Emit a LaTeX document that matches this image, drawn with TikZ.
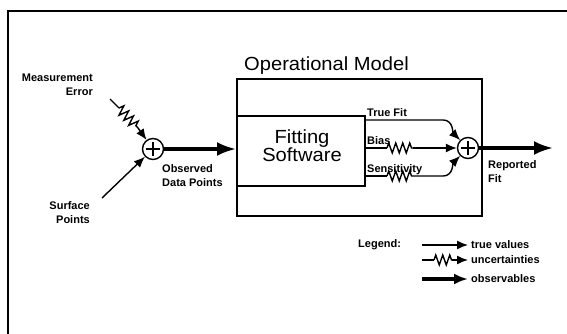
\documentclass[tikz,border=0pt]{standalone}
\usepackage{fontspec}
\setmainfont{Liberation Sans}
\usetikzlibrary{arrows.meta,decorations.pathmorphing,calc}
\begin{document}
\begin{tikzpicture}[x=1pt,y=-1pt,
  lbl/.style={font=\fontsize{11}{14}\selectfont\bfseries, inner sep=0pt},
  big/.style={font=\fontsize{19}{18}\selectfont, inner sep=0pt},
  thinline/.style={line width=1.4pt},
  thinarrow/.style={line width=1.4pt, -{Latex[length=11pt,width=9pt]}},
  thickarrow/.style={line width=3.2pt, -{Latex[length=19pt,width=14pt]}},
  zz/.style={line width=1.4pt, decorate, decoration={zigzag,segment length=7pt,amplitude=5pt}},
  sum/.style={circle, draw, line width=1.4pt, minimum size=21pt, inner sep=0pt,
    path picture={\draw[line width=1.2pt]
      ([xshift=-7pt]path picture bounding box.center) -- ([xshift=7pt]path picture bounding box.center)
      ([yshift=-7pt]path picture bounding box.center) -- ([yshift=7pt]path picture bounding box.center);}},
  boxnode/.style={draw, anchor=north west, inner sep=0pt}
]
\path[use as bounding box] (0,0) rectangle (567,334);
\fill[white] (0,0) rectangle (567,334);
% outer frame
\draw[line width=2.2pt] (567,11) -- (8,11) -- (8,334);

% boxes
\node (op) [boxnode, line width=2.3pt, minimum width=245pt, minimum height=137pt] at (236,78) {};
\node (title) [big, anchor=base west, xscale=1.06] at (244,71) {Operational Model};
\node (fit) [boxnode, line width=1.7pt, minimum width=128pt, minimum height=70pt] at (236,115) {};
\node (fitlbl) [big, align=center, xscale=1.06] at (302,146) {Fitting\\Software};

% summing junctions
\node (s1) [sum] at (153,149) {};
\node (s2) [sum] at (468,148) {};

% left labels
\node (me) [lbl, align=right, anchor=north east] at (93,74) {Measurement\\Error};
\node (sp) [lbl, align=right, anchor=north east] at (90,201) {Surface\\Points};
\node (odp) [lbl, align=left, anchor=north west] at (162,164) {Observed\\Data Points};

% measurement error (uncertainty)
\coordinate (meA) at (110,99);
\coordinate (meB) at (119,108);
\coordinate (meC) at (138,128);
\draw[thinline] (meA) -- (meB);
\draw[zz] (meB) -- (meC);
\draw[thinarrow] (meC) -- (s1);

% surface points
\coordinate (spA) at (102,198);
\draw[thinarrow] (spA) -- (s1);

% observed data points
\draw[thickarrow] (s1) -- (s1 -| op.west);

% fitting outputs
\node (tfl) [lbl, anchor=base west] at (367,117) {True Fit};
\node (bl) [lbl, anchor=base west] at (367,144) {Bias};
\node (sl) [lbl, anchor=base west] at (367,172) {Sensitivity};

\coordinate (tfA) at (fit.east |- 0,120);
\coordinate (tfB) at (443,120);
\draw[thinarrow] (tfA) -- (tfB) to[out=0,in=135] (s2);

\coordinate (bA) at (fit.east |- 0,148);
\coordinate (bB) at (387,148);
\coordinate (bC) at (413,148);
\draw[thinline] (bA) -- (bB);
\draw[zz] (bB) -- (bC);
\draw[thinarrow] (bC) -- (s2);

\coordinate (sA) at (fit.east |- 0,176);
\coordinate (sB) at (387,176);
\coordinate (sC) at (413,176);
\coordinate (sD) at (443,176);
\draw[thinline] (sA) -- (sB);
\draw[zz] (sB) -- (sC);
\draw[thinarrow] (sC) -- (sD) to[out=0,in=-135] (s2);

% reported fit
\coordinate (out) at (553,148);
\draw[thickarrow] (s2) -- (out);
\node (rf) [lbl, align=left, anchor=north west] at (488,160) {Reported\\Fit};

% legend
\node (leg) [lbl, anchor=west] at (358,245) {Legend:};
\coordinate (l1a) at (422,245);
\coordinate (l1b) at (468,245);
\draw[thinarrow] (l1a) -- (l1b);
\node (l1t) [lbl, anchor=west] at (471,245) {true values};

\coordinate (l2a) at (422,260);
\coordinate (l2b) at (434,260);
\coordinate (l2c) at (452,260);
\coordinate (l2d) at (468,260);
\draw[thinline] (l2a) -- (l2b);
\draw[zz] (l2b) -- (l2c);
\draw[thinarrow] (l2c) -- (l2d);
\node (l2t) [lbl, anchor=west] at (471,260) {uncertainties};

\coordinate (l3a) at (422,279);
\coordinate (l3b) at (468,279);
\draw[line width=3.2pt, -{Latex[length=14pt,width=11pt]}] (l3a) -- (l3b);
\node (l3t) [lbl, anchor=west] at (471,279) {observables};
\end{tikzpicture}
\end{document}
